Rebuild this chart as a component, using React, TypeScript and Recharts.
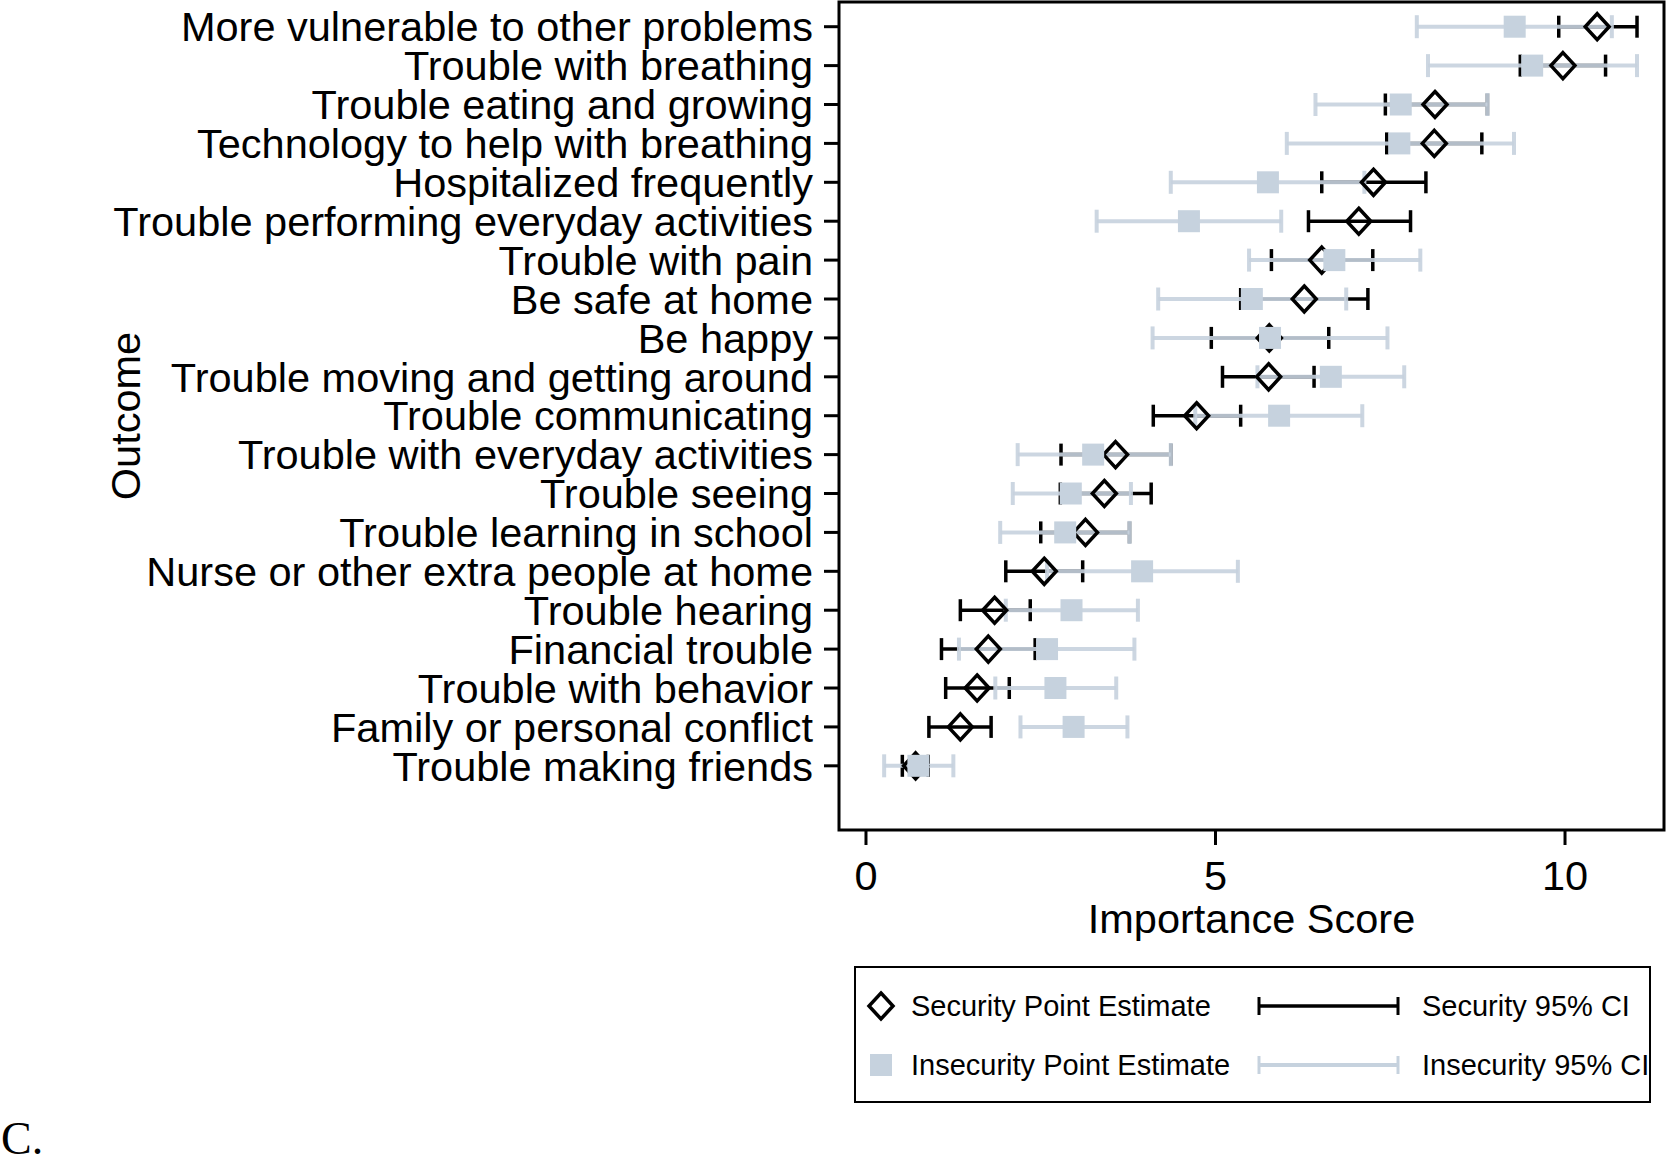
import React from 'react';
import { ScatterChart, Scatter, XAxis, YAxis, ErrorBar, ReferenceArea, Label } from 'recharts';

const outcomes = [
  'More vulnerable to other problems',
  'Trouble with breathing',
  'Trouble eating and growing',
  'Technology to help with breathing',
  'Hospitalized frequently',
  'Trouble performing everyday activities',
  'Trouble with pain',
  'Be safe at home',
  'Be happy',
  'Trouble moving and getting around',
  'Trouble communicating',
  'Trouble with everyday activities',
  'Trouble seeing',
  'Trouble learning in school',
  'Nurse or other extra people at home',
  'Trouble hearing',
  'Financial trouble',
  'Trouble with behavior',
  'Family or personal conflict',
  'Trouble making friends',
];

const secPoint = [10.46, 9.97, 8.14, 8.13, 7.26, 7.05, 6.52, 6.27, 5.77, 5.76, 4.73, 3.57, 3.41, 3.14, 2.55, 1.84, 1.75, 1.59, 1.35, 0.71];
const secLow = [9.91, 9.36, 7.43, 7.45, 6.52, 6.33, 5.8, 5.36, 4.94, 5.1, 4.11, 2.79, 2.78, 2.5, 2.0, 1.35, 1.08, 1.14, 0.9, 0.52];
const secHigh = [11.03, 10.58, 8.89, 8.81, 8.01, 7.79, 7.25, 7.18, 6.62, 6.41, 5.36, 4.36, 4.08, 3.77, 3.1, 2.35, 2.42, 2.05, 1.79, 0.89];

const insPoint = [9.28, 9.53, 7.65, 7.63, 5.75, 4.62, 6.7, 5.52, 5.78, 6.65, 5.91, 3.25, 2.93, 2.85, 3.95, 2.94, 2.59, 2.71, 2.97, 0.75];
const insLow = [7.88, 8.04, 6.43, 6.02, 4.36, 3.3, 5.48, 4.18, 4.1, 5.6, 4.71, 2.17, 2.1, 1.92, 2.59, 2.0, 1.33, 1.85, 2.21, 0.26];
const insHigh = [10.67, 11.03, 8.89, 9.27, 7.13, 5.94, 7.93, 6.87, 7.46, 7.7, 7.1, 4.36, 3.79, 3.77, 5.32, 3.89, 3.84, 3.58, 3.74, 1.25];

const xTicks = [0, 5, 10];

const FONT = '"Liberation Sans", Arial, Helvetica, sans-serif';
const INS = '#c6d2de';
const X_DOMAIN: [number, number] = [-0.386, 11.416];
const Y_DOMAIN: [number, number] = [0.365, 21.65];

const secData = outcomes.map((name, i) => ({
  name,
  row: i + 1,
  score: secPoint[i],
  err: [secPoint[i] - secLow[i], secHigh[i] - secPoint[i]],
}));

const insData = outcomes.map((name, i) => ({
  name,
  row: i + 1,
  score: insPoint[i],
  err: [insPoint[i] - insLow[i], insHigh[i] - insPoint[i]],
}));

const rowTicks = outcomes.map((_, i) => i + 1);

const Diamond = (props: any) => {
  const { cx, cy } = props;
  return (
    <path
      d={`M${cx},${cy - 13} L${cx + 12},${cy} L${cx},${cy + 13} L${cx - 12},${cy} Z`}
      fill="none"
      stroke="#000"
      strokeWidth={3.5}
    />
  );
};

const Square = (props: any) => {
  const { cx, cy } = props;
  return <rect x={cx - 11} y={cy - 11} width={22} height={22} fill={INS} />;
};

const Hidden = () => <g />;

const App = () => {
  return (
    <div style={{ position: 'absolute', left: 0, top: 0, width: 1666, height: 1160, background: '#fff' }}>
      <ScatterChart width={1666} height={1160} margin={{ top: 2, right: 2, bottom: 0, left: 0 }}>
        <XAxis
          type="number"
          dataKey="score"
          domain={X_DOMAIN}
          allowDataOverflow
          ticks={xTicks}
          tickSize={15}
          tickMargin={16}
          axisLine={false}
          tickLine={{ stroke: '#000', strokeWidth: 3 }}
          tick={{ fill: '#000', fontSize: 41.5, fontFamily: FONT }}
          height={330}
        >
          <Label
            value="Importance Score"
            position="insideTop"
            offset={74}
            style={{ fill: '#000', fontSize: 41.5, fontFamily: FONT }}
          />
        </XAxis>
        <YAxis
          type="number"
          dataKey="row"
          reversed
          domain={Y_DOMAIN}
          allowDataOverflow
          ticks={rowTicks}
          interval={0}
          tickFormatter={(v: number) => outcomes[v - 1]}
          width={839}
          tickSize={15}
          tickMargin={11}
          axisLine={false}
          tickLine={{ stroke: '#000', strokeWidth: 3 }}
          tick={{ fill: '#000', fontSize: 41.5, fontFamily: FONT }}
        >
          <Label
            content={(p: any) => {
              const vb = p.viewBox || { x: 0, y: 2, width: 839, height: 828 };
              const cx = 140;
              const cy = vb.y + vb.height / 2;
              return (
                <text
                  x={cx}
                  y={cy}
                  transform={`rotate(-90 ${cx} ${cy})`}
                  textAnchor="middle"
                  fill="#000"
                  fontSize={41.5}
                  fontFamily={FONT}
                >
                  Outcome
                </text>
              );
            }}
          />
        </YAxis>

        <Scatter data={secData} shape={Hidden} isAnimationActive={false}>
          <ErrorBar dataKey="err" direction="x" width={11} stroke="#000" strokeWidth={3.5} />
        </Scatter>
        <Scatter data={insData} shape={Hidden} isAnimationActive={false}>
          <ErrorBar dataKey="err" direction="x" width={11.5} stroke={INS} strokeWidth={4} strokeOpacity={0.9} />
        </Scatter>
        <Scatter data={secData} shape={Diamond} isAnimationActive={false} />
        <Scatter data={insData} shape={Square} isAnimationActive={false} />

        <ReferenceArea
          x1={X_DOMAIN[0]}
          x2={X_DOMAIN[1]}
          y1={Y_DOMAIN[0]}
          y2={Y_DOMAIN[1]}
          fill="none"
          stroke="#000"
          strokeWidth={3}
          ifOverflow="visible"
        />
      </ScatterChart>

      <svg
        width={1666}
        height={1160}
        style={{ position: 'absolute', left: 0, top: 0, pointerEvents: 'none' }}
      >
        <rect x={855} y={967} width={795} height={135} fill="none" stroke="#000" strokeWidth={2} />
        <path d="M881,993 L893,1006 L881,1019 L869,1006 Z" fill="none" stroke="#000" strokeWidth={3.5} />
        <text x={911} y={1016} fontSize={29} fontFamily={FONT} fill="#000">Security Point Estimate</text>
        <line x1={1259} y1={1006} x2={1398} y2={1006} stroke="#000" strokeWidth={3.5} />
        <line x1={1259} y1={997} x2={1259} y2={1015} stroke="#000" strokeWidth={3} />
        <line x1={1398} y1={997} x2={1398} y2={1015} stroke="#000" strokeWidth={3} />
        <text x={1422} y={1016} fontSize={29} fontFamily={FONT} fill="#000">Security 95% CI</text>

        <rect x={870} y={1054} width={22} height={22} fill={INS} />
        <text x={911} y={1075} fontSize={29} fontFamily={FONT} fill="#000">Insecurity Point Estimate</text>
        <line x1={1259} y1={1065} x2={1398} y2={1065} stroke={INS} strokeWidth={4} />
        <line x1={1259} y1={1056} x2={1259} y2={1074} stroke={INS} strokeWidth={3} />
        <line x1={1398} y1={1056} x2={1398} y2={1074} stroke={INS} strokeWidth={3} />
        <text x={1422} y={1075} fontSize={29} fontFamily={FONT} fill="#000">Insecurity 95% CI</text>

        <text x={1} y={1154} fontSize={46} fontFamily='"Liberation Serif", "Times New Roman", serif' fill="#000">C.</text>
      </svg>
    </div>
  );
};

export default App;
